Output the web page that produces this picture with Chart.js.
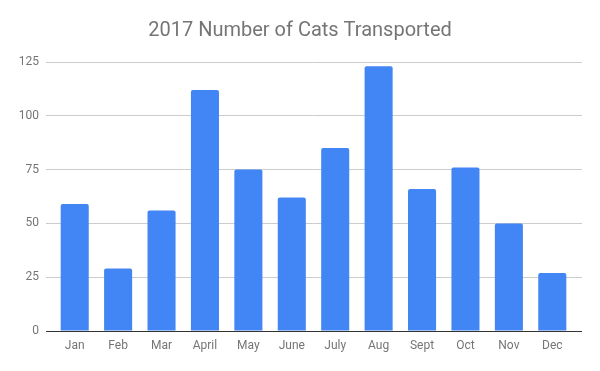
<!DOCTYPE html>
<html>
<head>
<meta charset="utf-8">
<script src="https://cdn.jsdelivr.net/npm/chart.js@4"></script>
<style>
html,body{margin:0;padding:0;background:#fff;}
#c{display:block;}
</style>
</head>
<body>
<canvas id="c" width="600" height="371"></canvas>
<script>
const categories = ["Jan","Feb","Mar","April","May","June","July","Aug","Sept","Oct","Nov","Dec"];
const catsTransported = [59, 29, 56, 112, 75, 62, 85, 123, 66, 76, 50, 27];
const yTicks = [0, 25, 50, 75, 100, 125];
const chartTitle = "2017 Number of Cats Transported";

const gridColor = c => (c.tick && c.tick.value === 0) ? '#333333' : '#cccccc';

new Chart(document.getElementById('c'), {
  type: 'bar',
  data: {
    labels: categories,
    datasets: [{
      label: 'Cats',
      data: catsTransported,
      backgroundColor: '#4285F4',
      borderRadius: 2,
      borderSkipped: 'bottom',
      categoryPercentage: 1,
      barPercentage: 0.646,
      yAxisID: 'y'
    }]
  },
  options: {
    responsive: false,
    animation: false,
    layout: { padding: 0 },
    plugins: {
      legend: { display: false },
      tooltip: { enabled: false },
      title: {
        display: true,
        text: chartTitle,
        color: '#757575',
        font: { family: 'Roboto', size: 20, weight: 'normal', lineHeight: 1.2 },
        padding: { top: 19, bottom: 19 }
      }
    },
    scales: {
      x: {
        grid: { display: false, drawTicks: false },
        border: { display: true, color: '#333333', width: 1 },
        ticks: { color: '#757575', font: { family: 'Roboto', size: 12 }, padding: 8 },
        afterFit: s => { s.height = 40; }
      },
      y: {
        position: 'left',
        min: 0,
        max: 125,
        afterBuildTicks: s => { s.ticks = yTicks.map(v => ({ value: v })); },
        grid: { drawTicks: true, tickLength: 7, color: gridColor, tickColor: gridColor, lineWidth: 1 },
        border: { display: false },
        ticks: { color: '#757575', font: { family: 'Roboto', size: 12 }, padding: 7 },
        afterFit: s => { s.width = 53; }
      },
      yRight: {
        position: 'right',
        min: 0,
        max: 125,
        afterBuildTicks: s => { s.ticks = yTicks.map(v => ({ value: v })); },
        grid: { drawOnChartArea: false, drawTicks: true, tickLength: 8, color: gridColor, tickColor: gridColor, lineWidth: 1 },
        border: { display: false },
        ticks: { display: false },
        afterFit: s => { s.width = 26; }
      }
    }
  }
});
</script>
</body>
</html>
